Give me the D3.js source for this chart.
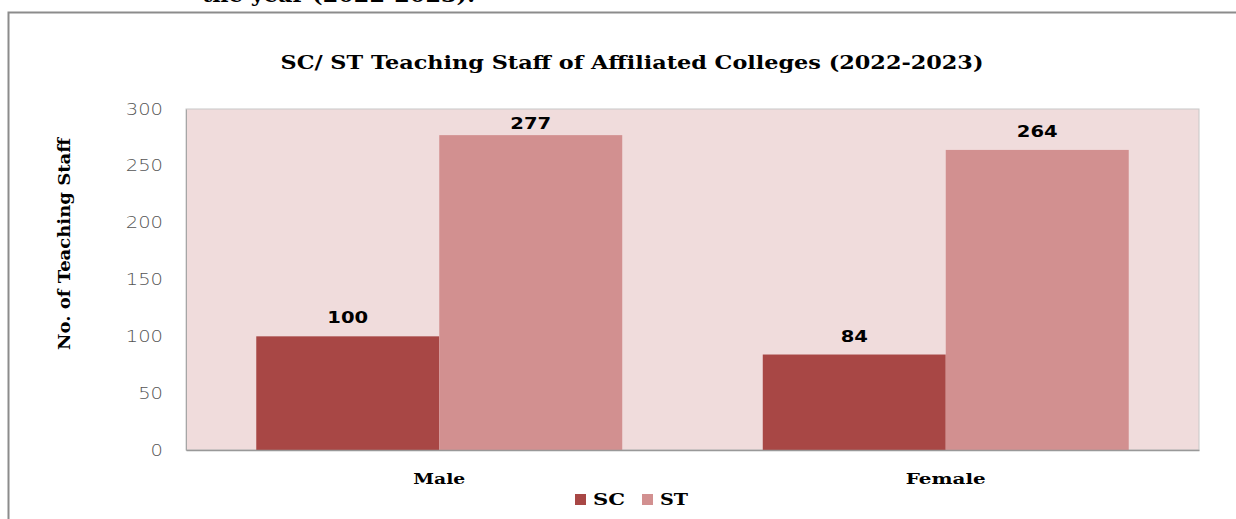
<!DOCTYPE html>
<html>
<head>
<meta charset="utf-8">
<script src="https://cdn.jsdelivr.net/npm/d3@7"></script>
<style>
  body { margin: 0; background: #fff; }
</style>
</head>
<body>
<div id="chart"></div>
<script>
// Data
var genders = ["Male", "Female"];
var groups = ["SC", "ST"];
var scValues = [100, 84];
var stValues = [277, 264];
var yTicks = [0, 50, 100, 150, 200, 250, 300];

var colors = { SC: "#A84745", ST: "#D29090" };

var width = 1236,
    height = 519,
    plot = { left: 186, right: 1199, top: 109, bottom: 450 };

// the reference uses a wide serif; stretch text to the widths it takes up
var catWidths = { Male: 52, Female: 80 };

var svg = d3.select("#chart")
            .append("svg")
            .attr("width", width)
            .attr("height", height);

// Clipped caption from the page above
svg.append("text")
   .attr("x", 202)
   .attr("y", 2)
   .attr("font-family", "DejaVu Serif")
   .attr("font-weight", "bold")
   .attr("font-size", 20)
   .attr("textLength", 273)
   .attr("lengthAdjust", "spacingAndGlyphs")
   .text("the year (2022-2023).");

// Outer frame
svg.append("path")
   .attr("d", "M8.5," + height + "V12.5H" + width)
   .attr("fill", "none")
   .attr("stroke", "#8c8c8c")
   .attr("stroke-width", 2);

// Title
svg.append("text")
   .attr("x", 632)
   .attr("y", 69)
   .attr("text-anchor", "middle")
   .attr("font-family", "DejaVu Serif")
   .attr("font-weight", "bold")
   .attr("font-size", 18)
   .attr("textLength", 703)
   .attr("lengthAdjust", "spacingAndGlyphs")
   .text("SC/ ST Teaching Staff of Affiliated Colleges (2022-2023)");

// Scales
var x0 = d3.scaleBand()
           .domain(genders)
           .range([plot.left, plot.right])
           .padding(0);

var x1 = d3.scaleBand()
           .domain(groups)
           .range([0, x0.bandwidth()])
           .paddingInner(0)
           .paddingOuter(0.384);

var y = d3.scaleLinear()
          .domain([0, 300])
          .range([plot.bottom, plot.top]);

// Plot background
svg.append("rect")
   .attr("x", plot.left)
   .attr("y", plot.top)
   .attr("width", plot.right - plot.left)
   .attr("height", plot.bottom - plot.top)
   .attr("fill", "#F0DCDC")
   .attr("stroke", "#c8c8c8")
   .attr("stroke-width", 1);

// Bars
var rows = genders.map(function(g, i) {
  return { gender: g, values: [
    { group: "SC", value: scValues[i] },
    { group: "ST", value: stValues[i] }
  ] };
});

var cat = svg.append("g")
             .selectAll("g")
             .data(rows)
             .enter()
             .append("g")
             .attr("transform", function(d) { return "translate(" + x0(d.gender) + ",0)"; });

cat.selectAll("rect")
   .data(function(d) { return d.values; })
   .enter()
   .append("rect")
   .attr("x", function(d) { return x1(d.group); })
   .attr("width", x1.bandwidth())
   .attr("y", function(d) { return y(d.value); })
   .attr("height", function(d) { return y(0) - y(d.value); })
   .attr("fill", function(d) { return colors[d.group]; });

// value labels, kept inside the plot area
cat.selectAll("text.val")
   .data(function(d) { return d.values; })
   .enter()
   .append("text")
   .attr("class", "val")
   .attr("x", function(d) { return x1(d.group) + x1.bandwidth() / 2; })
   .attr("y", function(d) { return Math.max(y(d.value) - 13, plot.top + 20); })
   .attr("text-anchor", "middle")
   .attr("font-family", "DejaVu Sans")
   .attr("font-weight", "bold")
   .attr("font-size", 16)
   .attr("textLength", function(d) { return String(d.value).length * 13.6; })
   .attr("lengthAdjust", "spacingAndGlyphs")
   .text(function(d) { return d.value; });

// Y axis
var yAxis = d3.axisLeft(y)
              .tickValues(yTicks)
              .tickSize(0)
              .tickPadding(23);

var yg = svg.append("g")
            .attr("transform", "translate(" + plot.left + ",0)")
            .call(yAxis);
yg.select(".domain").attr("stroke", "#a6a6a6");
yg.selectAll("text")
  .attr("font-family", "DejaVu Sans")
  .attr("font-weight", 200)
  .attr("font-size", 16)
  .attr("fill", "#555")
  .attr("textLength", function(d) { return String(d).length * 12.4; })
  .attr("lengthAdjust", "spacingAndGlyphs");

// X axis
var xAxis = d3.axisBottom(x0)
              .tickSize(0)
              .tickPadding(23);

var xg = svg.append("g")
            .attr("transform", "translate(0," + plot.bottom + ")")
            .call(xAxis);
xg.select(".domain").attr("stroke", "#999").attr("stroke-width", 1.5);
xg.selectAll("text")
  .attr("font-family", "DejaVu Serif")
  .attr("font-weight", "bold")
  .attr("font-size", 15)
  .attr("fill", "#000")
  .attr("textLength", function(d) { return catWidths[d]; })
  .attr("lengthAdjust", "spacingAndGlyphs");

// Y axis title
svg.append("text")
   .attr("transform", "translate(70,244) rotate(-90)")
   .attr("text-anchor", "middle")
   .attr("font-family", "DejaVu Serif")
   .attr("font-weight", "bold")
   .attr("font-size", 16)
   .attr("textLength", 212)
   .attr("lengthAdjust", "spacingAndGlyphs")
   .text("No. of Teaching Staff");

// Legend
var legend = svg.append("g")
                .selectAll("g")
                .data(groups)
                .enter()
                .append("g")
                .attr("transform", function(d, i) { return "translate(" + (575 + i * 67) + ",494)"; });

legend.append("rect")
      .attr("width", 11)
      .attr("height", 11)
      .attr("fill", function(d) { return colors[d]; });

legend.append("text")
      .attr("x", 18)
      .attr("y", 11)
      .attr("font-family", "DejaVu Serif")
      .attr("font-weight", "bold")
      .attr("font-size", 16)
      .attr("textLength", function(d) { return d === "SC" ? 32 : 28; })
      .attr("lengthAdjust", "spacingAndGlyphs")
      .text(function(d) { return d; });
</script>
</body>
</html>
